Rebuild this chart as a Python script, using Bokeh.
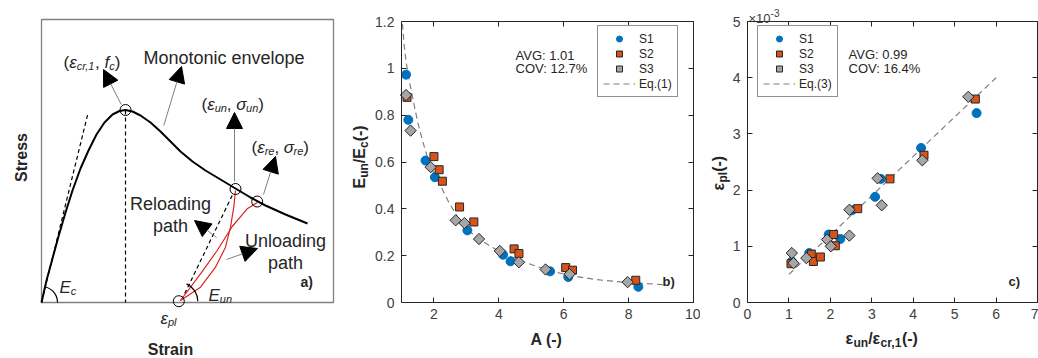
import math
from bokeh.plotting import figure
from bokeh.models import (Label, Arrow, NormalHead, LinearAxis, Legend, LegendItem,
                          FixedTicker, Range1d, CustomJSTickFormatter)
from bokeh.layouts import row
from bokeh.embed import file_html
from bokeh.resources import INLINE

FONT = "Liberation Sans"
DARK = "#262626"
TICKC = "#404040"

# ---------------- data: panel b ----------------
s1_A = [1.14, 1.21, 1.74, 2.03, 3.03, 4.13, 4.36, 5.58, 6.14, 8.30]
s1_E = [0.973, 0.78, 0.606, 0.535, 0.308, 0.204, 0.176, 0.133, 0.109, 0.067]
s2_A = [1.17, 2.00, 2.16, 2.26, 2.79, 3.23, 4.47, 4.62, 6.06, 6.27, 8.22]
s2_E = [0.876, 0.623, 0.567, 0.518, 0.408, 0.344, 0.229, 0.209, 0.149, 0.138, 0.095]
s3_A = [1.14, 1.28, 1.90, 2.67, 2.94, 3.39, 4.03, 4.62, 5.44, 6.18, 7.97]
s3_E = [0.886, 0.734, 0.578, 0.351, 0.339, 0.271, 0.220, 0.172, 0.141, 0.121, 0.087]
eq1_A = [1.03, 1.08, 1.15, 1.25, 1.35, 1.5, 1.65, 1.8, 2.0, 2.2, 2.45, 2.75, 3.05,
         3.4, 3.8, 4.3, 4.8, 5.5, 6.2, 7.0, 7.8, 8.5, 9.1]
eq1_E = [1.19, 1.10, 1.02, 0.94, 0.87, 0.77, 0.69, 0.62, 0.55, 0.50, 0.43, 0.36, 0.31,
         0.27, 0.235, 0.20, 0.172, 0.138, 0.115, 0.098, 0.087, 0.081, 0.076]
b_xticks = [2, 4, 6, 8, 10]
b_yticks = [0, 0.2, 0.4, 0.6, 0.8, 1, 1.2]

# ---------------- data: panel c (eps_pl in 1e-3) ----------------
s1_r = [1.07, 1.49, 1.96, 2.24, 2.52, 3.08, 3.22, 4.19, 5.53]
s1_p = [0.73, 0.88, 1.21, 1.13, 1.64, 1.88, 2.20, 2.75, 3.37]
s2_r = [1.05, 1.54, 1.59, 1.76, 2.08, 2.12, 2.66, 3.44, 4.26, 5.50]
s2_p = [0.69, 0.86, 0.73, 0.81, 1.21, 1.01, 1.67, 2.20, 2.62, 3.62]
s3_r = [1.07, 1.11, 1.42, 1.92, 2.01, 2.46, 2.46, 3.14, 3.24, 4.22, 5.33]
s3_p = [0.88, 0.70, 0.79, 1.12, 1.00, 1.19, 1.65, 2.21, 1.73, 2.53, 3.66]
eq3_r = [1.0, 6.0]
eq3_p = [0.5, 4.0]
c_xticks = [0, 1, 2, 3, 4, 5, 6, 7]
c_yticks = [0, 1, 2, 3, 4, 5]

# ---------------- schematic (panel a), pixel-like coordinates ----------------
env_x = [41, 46, 52, 58, 65, 72, 80, 88, 96, 104, 112, 119, 125, 132, 140, 150, 160,
         170, 180, 192, 205, 220, 235, 250, 265, 285, 307]
env_y = [302, 280, 258, 236, 212, 190, 168, 150, 134, 122, 114, 110.5, 109.5, 111, 115,
         122, 131, 141, 151, 161, 170, 179, 188, 197, 205, 214, 223]
unl_x = [235, 233.3, 230, 225, 215, 200, 180]
unl_y = [190, 206.7, 226.7, 246.7, 266.7, 286.7, 300]
rel_x = [180, 200, 216.7, 231.7, 246.7, 257.3]
rel_y = [300, 273.3, 250, 226, 208.3, 201.7]

W_REG = {'(': .333, ')': .333, ',': .278, ' ': .278, '-': .333, '/': .278, '.': .278,
         'c': .5, 'r': .333, 'l': .222, 'f': .278, 'E': .667, 'ε': .44, 'σ': .57,
         '×': .584, 'i': .222, 't': .278}
W_BOLD = {'(': .333, ')': .333, ',': .278, ' ': .278, '-': .333, '/': .278,
          'c': .556, 'r': .389, 'u': .611, 'n': .611, 'p': .611, 'l': .278, 'E': .667,
          'ε': .5}


def tw(s, size, bold):
    tab = W_BOLD if bold else W_REG
    return sum(tab.get(ch, .556) for ch in s) * size


def rich(p, x0, y0, parts, fx, fy, vertical=False, color=DARK):
    cur = y0 if vertical else x0
    for txt, size, style, shift in parts:
        w = tw(txt, size, 'bold' in style)
        if vertical:
            lab = Label(x=fx(x0 + shift), y=fy(cur), angle=math.pi / 2)
            cur -= w
        else:
            lab = Label(x=fx(cur), y=fy(y0 + shift))
            cur += w
        lab.text = txt
        lab.text_font = FONT
        lab.text_font_size = f"{size}px"
        lab.text_font_style = style
        lab.text_color = color
        lab.text_align = "left"
        lab.text_baseline = "alphabetic"
        p.add_layout(lab)


def simple(p, x, y, txt, size, style="normal", align="left", angle=0, color=DARK):
    p.add_layout(Label(x=x, y=y, text=txt, text_font=FONT, text_font_size=f"{size}px",
                       text_font_style=style, text_color=color, text_align=align,
                       text_baseline="alphabetic", angle=angle))


# ================= panel a =================
pa = figure(width=345, height=358, x_range=Range1d(0, 345), y_range=Range1d(0, 358),
            output_backend="svg", toolbar_location=None, x_axis_type=None, y_axis_type=None,
            min_border=0)
pa.grid.visible = False
pa.outline_line_color = None
ax = lambda px: px
ay = lambda py: 358 - py

pa.quad(left=41, right=333, bottom=ay(302), top=ay(19), fill_color=None,
        line_color="#808080", line_width=1.3)
pa.line([41, 87.3], [ay(302), ay(113.5)], line_color="black", line_dash="4 3", line_width=1.2)
pa.line([125, 125], [ay(110), ay(302)], line_color="black", line_dash="4 3", line_width=1.2)
pa.line([231.7, 181.7], [ay(195), ay(298.3)], line_color="black", line_dash="4 3", line_width=1.2)
pa.line(env_x, [ay(v) for v in env_y], line_color="black", line_width=2)
pa.line(unl_x, [ay(v) for v in unl_y], line_color="#dd2222", line_width=1.2)
pa.line(rel_x, [ay(v) for v in rel_y], line_color="#dd2222", line_width=1.2)
pa.arc(x=[41], y=[ay(302)], radius=16, start_angle=0, end_angle=1.32, line_color="black",
       line_width=1.2)
pa.arc(x=[178.3], y=[ay(300.7)], radius=19, start_angle=0, end_angle=1.15,
       line_color="black", line_width=1.2)
pa.scatter(x=[125, 235, 256.7, 178.3], y=[ay(109.5), ay(188.5), ay(201), ay(300.7)],
           marker="circle", size=11, fill_alpha=0, line_color="black", line_width=1)

arrows = [((120.7, 104), (103, 69)), ((163.3, 125), (181, 66)), ((234, 181), (234, 112)),
          ((263, 194), (275, 156)), ((216, 237), (194, 220)), ((226, 259), (257, 248))]
for (x1, y1), (x2, y2) in arrows:
    pa.add_layout(Arrow(x_start=x1, y_start=ay(y1), x_end=x2, y_end=ay(y2),
                        line_color="#808080", line_width=1,
                        end=NormalHead(size=16, fill_color="black", line_color="black")))

rich(pa, 63, 62, [("(", 17, "normal", 0), ("ε", 17, "italic", 0), ("cr,1", 11, "italic", 3),
                  (", ", 17, "normal", 0), ("f", 17, "italic", 0), ("c", 11, "italic", 3),
                  (")", 17, "normal", 0)], ax, ay)
simple(pa, 143, ay(57), "Monotonic envelope", 18)
rich(pa, 201, 104, [("(", 17, "normal", 0), ("ε", 17, "italic", 0), ("un", 11, "italic", 3),
                    (", ", 17, "normal", 0), ("σ", 17, "italic", 0), ("un", 11, "italic", 3),
                    (")", 17, "normal", 0)], ax, ay)
rich(pa, 251, 147, [("(", 17, "normal", 0), ("ε", 17, "italic", 0), ("re", 11, "italic", 3),
                    (", ", 17, "normal", 0), ("σ", 17, "italic", 0), ("re", 11, "italic", 3),
                    (")", 17, "normal", 0)], ax, ay)
simple(pa, 170, ay(203), "Reloading", 18, align="center")
simple(pa, 170, ay(225), "path", 18, align="center")
simple(pa, 285, ay(240), "Unloading", 18, align="center")
simple(pa, 285, ay(262), "path", 18, align="center")
simple(pa, 300, ay(281), "a)", 14, "bold")
rich(pa, 59, 287, [("E", 17, "italic", 0), ("c", 11, "italic", 3)], ax, ay)
rich(pa, 208, 295, [("E", 17, "italic", 0), ("un", 11, "italic", 3)], ax, ay)
rich(pa, 160, 318, [("ε", 17, "italic", 0), ("pl", 11, "italic", 3)], ax, ay)
simple(pa, 170, ay(349), "Strain", 16, "bold", align="center")
simple(pa, 21, ay(157), "Stress", 16, "bold", align="center", angle=math.pi / 2)


# ================= helpers for b and c =================
def make_axes(p, xt, yt, xb, yb, fmt=False):
    p.grid.visible = False
    p.outline_line_color = None

    def mk(ticks, loc, bounds, labels, standoff):
        a = LinearAxis(ticker=FixedTicker(ticks=ticks), fixed_location=loc, bounds=bounds,
                       major_tick_in=5, major_tick_out=0, minor_tick_line_color=None,
                       axis_line_color=DARK, major_tick_line_color=DARK,
                       major_label_text_font=FONT, major_label_standoff=standoff,
                       major_label_text_color=TICKC,
                       major_label_text_font_size="14px" if labels else "0px")
        if fmt:
            a.formatter = CustomJSTickFormatter(code="return String(tick)")
        return a

    p.add_layout(mk(xt, yb[0], xb, True, 6), "below")
    p.add_layout(mk(yt, xb[0], yb, True, 7), "left")
    p.add_layout(mk(xt, yb[1], xb, False, 0), "above")
    p.add_layout(mk(yt, xb[1], yb, False, 0), "right")


def add_legend(p, rs, eqname, loc):
    items = [LegendItem(label="S1", renderers=[rs[0]]), LegendItem(label="S2", renderers=[rs[1]]),
             LegendItem(label="S3", renderers=[rs[2]]), LegendItem(label=eqname, renderers=[rs[3]])]
    lg = Legend(items=items, location=loc, padding=5, spacing=0,
                label_height=15, glyph_height=15, glyph_width=32, label_standoff=4,
                label_text_font=FONT, label_text_font_size="12px", label_text_color=DARK,
                border_line_color=DARK, border_line_width=1, background_fill_alpha=1)
    p.add_layout(lg)


def series(p, xs1, ys1, xs2, ys2, xs3, ys3, xe, ye):
    re = p.line(xe, ye, line_color="#808080", line_dash="6 4", line_width=1.2)
    r1 = p.scatter(xs1, ys1, marker="circle", size=9, fill_color="#0072BD",
                   line_color="#0072BD")
    r2 = p.scatter(xs2, ys2, marker="square", size=8, fill_color="#D95319",
                   line_color=DARK, line_width=1)
    r3 = p.scatter(xs3, ys3, marker="square", angle=math.pi / 4, size=8,
                   fill_color="#A6A6A6", line_color=DARK, line_width=1)
    return [r1, r2, r3, re]


# ================= panel b (window x 345..700) =================
bx = lambda px: 1 + (px - 401) * 9 / 292
by = lambda py: (302 - py) * 1.2 / 281
pb = figure(width=355, height=358, x_range=Range1d(bx(345), bx(700)),
            y_range=Range1d(by(358), by(0)), x_axis_type=None, y_axis_type=None,
            output_backend="svg", toolbar_location=None, min_border=0)
make_axes(pb, b_xticks, b_yticks, (1, 10), (0, 1.2), fmt=True)
rb = series(pb, s1_A, s1_E, s2_A, s2_E, s3_A, s3_E, eq1_A, eq1_E)
add_legend(pb, rb, "Eq.(1)", (597 - 345, 358 - 97))
simple(pb, bx(546), by(339), "A (-)", 16, "bold", align="center")
rich(pb, 359, 188, [("E", 16, "bold", 0), ("un", 12, "bold", 4), ("/E", 16, "bold", 0),
                    ("c", 12, "bold", 4), (" (-)", 16, "bold", 0)], bx, by, vertical=True)
simple(pb, bx(515), by(55), "AVG: 1.01", 13)
simple(pb, bx(515), by(68), "COV: 12.7%", 13)
simple(pb, bx(662), by(281), "b)", 13, "bold")

# ================= panel c (window x 700..1038) =================
cx = lambda px: (px - 747) * 7 / 290
cy = lambda py: (302 - py) * 5 / 281
pc = figure(width=338, height=358, x_range=Range1d(cx(700), cx(1038)),
            y_range=Range1d(cy(358), cy(0)), x_axis_type=None, y_axis_type=None,
            output_backend="svg", toolbar_location=None, min_border=0)
make_axes(pc, c_xticks, c_yticks, (0, 7), (0, 5))
rc = series(pc, s1_r, s1_p, s2_r, s2_p, s3_r, s3_p, eq3_r, eq3_p)
add_legend(pc, rc, "Eq.(3)", (757 - 700, 358 - 97))
rich(pc, 718, 190, [("ε", 16, "bold", 0), ("pl", 12, "bold", 4), (" (-)", 16, "bold", 0)],
     cx, cy, vertical=True)
rich(pc, 845, 338, [("ε", 16, "bold", 0), ("un", 12, "bold", 4), ("/ε", 16, "bold", 0),
                    ("cr,1", 12, "bold", 4), (" (-)", 16, "bold", 0)], cx, cy)
rich(pc, 748, 18, [("×10", 13, "normal", 0), ("-3", 10, "normal", -6)], cx, cy, color=TICKC)
simple(pc, cx(848), cy(54), "AVG: 0.99", 13)
simple(pc, cx(848), cy(68), "COV: 16.4%", 13)
simple(pc, cx(1008), cy(281), "c)", 13, "bold")

layout = row(pa, pb, pc)
open("out.html", "w").write(file_html(layout, INLINE))
